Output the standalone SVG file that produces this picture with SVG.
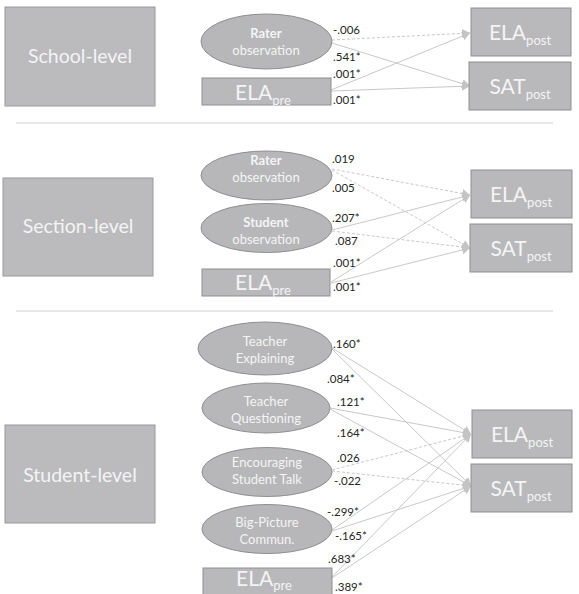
<svg xmlns="http://www.w3.org/2000/svg" width="579" height="594" viewBox="0 0 579 594">
<defs>
<style>
.lvl{fill:#bbbbbe;stroke:#9a9a9a;stroke-width:1}
.box{fill:#b9b9bc;stroke:#8f8f8f;stroke-width:1}
.ell{fill:#b7b7b9;stroke:#8f8f8f;stroke-width:1}
.lt{font-family:Lato,"Open Sans",sans-serif;fill:#f4f4f4;text-anchor:middle}
.big{font-size:19.5px}
.var{font-size:21px}
.sub{font-size:13px}
.et{font-size:13px}
.b{font-weight:bold}
.lab{font-family:Lato,"Open Sans",sans-serif;font-size:11.5px;fill:#262626}
.c{stroke:#c9c9c9;stroke-width:1;fill:none;marker-end:url(#ah)}
.d{stroke-dasharray:3 2}
.sep{stroke:#cfcfcf;stroke-width:1.2}
</style>
<marker id="ah" markerWidth="9" markerHeight="9" refX="8" refY="4.5" orient="auto" markerUnits="userSpaceOnUse">
<path d="M0,0 L8,4.5 L0,9 Z" fill="#c4c4c4"/>
</marker>
</defs>
<rect width="579" height="594" fill="#ffffff"/>

<line class="sep" x1="16" y1="123" x2="553" y2="123"/>
<line class="sep" x1="16" y1="311" x2="553" y2="311"/>

<g id="connectors">
<line class="c d" x1="332" y1="40" x2="470" y2="33"/>
<line class="c" x1="332" y1="43" x2="470" y2="86"/>
<line class="c" x1="331" y1="90" x2="470" y2="33"/>
<line class="c" x1="331" y1="91" x2="470" y2="86"/>
<line class="c d" x1="332" y1="169" x2="470" y2="195"/>
<line class="c d" x1="332" y1="170" x2="470" y2="248"/>
<line class="c" x1="332" y1="230" x2="470" y2="195"/>
<line class="c d" x1="332" y1="231" x2="470" y2="248"/>
<line class="c" x1="331" y1="282" x2="470" y2="195"/>
<line class="c" x1="331" y1="283" x2="470" y2="248"/>
<line class="c" x1="332" y1="348" x2="471" y2="434"/>
<line class="c" x1="332" y1="349" x2="471" y2="486"/>
<line class="c" x1="330" y1="408" x2="471" y2="434"/>
<line class="c" x1="330" y1="409" x2="471" y2="486"/>
<line class="c d" x1="332" y1="470" x2="471" y2="434"/>
<line class="c d" x1="332" y1="471" x2="471" y2="486"/>
<line class="c" x1="332" y1="530" x2="471" y2="434"/>
<line class="c" x1="332" y1="531" x2="471" y2="486"/>
<line class="c" x1="332" y1="577" x2="471" y2="434"/>
<line class="c" x1="332" y1="578" x2="471" y2="486"/>
</g>

<g id="labels">
<text class="lab" x="333" y="34">-.006</text>
<text class="lab" x="333" y="61">.541*</text>
<text class="lab" x="333" y="78">.001*</text>
<text class="lab" x="333" y="104">.001*</text>
<text class="lab" x="332" y="163">.019</text>
<text class="lab" x="332" y="192">.005</text>
<text class="lab" x="332" y="222">.207*</text>
<text class="lab" x="335" y="245">.087</text>
<text class="lab" x="333" y="267">.001*</text>
<text class="lab" x="333" y="291">.001*</text>
<text class="lab" x="333" y="348">.160*</text>
<text class="lab" x="327" y="383">.084*</text>
<text class="lab" x="337" y="406">.121*</text>
<text class="lab" x="337" y="437">.164*</text>
<text class="lab" x="337" y="462">.026</text>
<text class="lab" x="334" y="485">-.022</text>
<text class="lab" x="327" y="516">-.299*</text>
<text class="lab" x="335" y="540">-.165*</text>
<text class="lab" x="328" y="563">.683*</text>
<text class="lab" x="335" y="591">.389*</text>
</g>

<g id="school-level"><rect class="lvl" x="5" y="7" width="150" height="99"/><text class="lt big" x="80" y="63">School-level</text></g>
<g id="section-level"><rect class="lvl" x="3" y="178" width="150" height="98"/><text class="lt big" x="78" y="233">Section-level</text></g>
<g id="student-level"><rect class="lvl" x="5" y="425" width="150" height="98"/><text class="lt big" x="80" y="482">Student-level</text></g>

<g id="school-rater"><ellipse class="ell" cx="266.5" cy="41.5" rx="65.5" ry="27.5"/><text class="lt et b" x="266" y="38">Rater</text><text class="lt et" x="266" y="55">observation</text></g>
<g id="school-elapre"><rect class="box" x="202" y="78" width="129" height="27"/><text class="lt var" x="263" y="100">ELA<tspan class="sub" dy="5">pre</tspan></text></g>
<g id="school-elapost"><rect class="box" x="471" y="8" width="100" height="48"/><text class="lt var" x="520" y="40">ELA<tspan class="sub" dy="5">post</tspan></text></g>
<g id="school-satpost"><rect class="box" x="469" y="62" width="102" height="48"/><text class="lt var" x="520" y="94">SAT<tspan class="sub" dy="5">post</tspan></text></g>

<g id="section-rater"><ellipse class="ell" cx="266.5" cy="175.5" rx="65.5" ry="24.5"/><text class="lt et b" x="266" y="165">Rater</text><text class="lt et" x="266" y="182">observation</text></g>
<g id="section-student"><ellipse class="ell" cx="266.5" cy="228" rx="65.5" ry="24.5"/><text class="lt et b" x="266" y="227">Student</text><text class="lt et" x="266" y="244">observation</text></g>
<g id="section-elapre"><rect class="box" x="202" y="269" width="128" height="27"/><text class="lt var" x="263" y="290">ELA<tspan class="sub" dy="5">pre</tspan></text></g>
<g id="section-elapost"><rect class="box" x="471" y="170" width="101" height="48"/><text class="lt var" x="521" y="202">ELA<tspan class="sub" dy="5">post</tspan></text></g>
<g id="section-satpost"><rect class="box" x="470" y="224" width="102" height="48"/><text class="lt var" x="521" y="256">SAT<tspan class="sub" dy="5">post</tspan></text></g>

<g id="teacher-explaining"><ellipse class="ell" cx="265" cy="348.5" rx="67" ry="26.5"/><text class="lt et" x="265" y="346">Teacher</text><text class="lt et" x="265" y="363">Explaining</text></g>
<g id="teacher-questioning"><ellipse class="ell" cx="266" cy="408" rx="64" ry="25"/><text class="lt et" x="266" y="406">Teacher</text><text class="lt et" x="266" y="423">Questioning</text></g>
<g id="encouraging-talk"><ellipse class="ell" cx="267" cy="472" rx="65" ry="24.5"/><text class="lt et" x="267" y="467">Encouraging</text><text class="lt et" x="267" y="484">Student Talk</text></g>
<g id="big-picture"><ellipse class="ell" cx="267" cy="529" rx="65" ry="24.5"/><text class="lt et" x="267" y="527">Big-Picture</text><text class="lt et" x="267" y="544">Commun.</text></g>
<g id="student-elapre"><rect class="box" x="203" y="568" width="129" height="30"/><text class="lt var" x="264" y="586">ELA<tspan class="sub" dy="4">pre</tspan></text></g>
<g id="student-elapost"><rect class="box" x="472" y="410" width="100" height="48"/><text class="lt var" x="522" y="442">ELA<tspan class="sub" dy="5">post</tspan></text></g>
<g id="student-satpost"><rect class="box" x="471" y="464" width="101" height="48"/><text class="lt var" x="521" y="496">SAT<tspan class="sub" dy="5">post</tspan></text></g>
</svg>
